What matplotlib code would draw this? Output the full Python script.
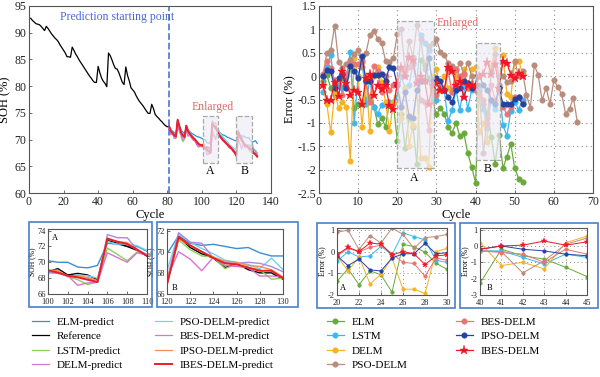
import matplotlib
matplotlib.use("Agg")
import matplotlib.pyplot as plt
from matplotlib.patches import Rectangle

plt.rcParams['font.family'] = ['Liberation Serif', 'DejaVu Serif']
plt.rcParams['axes.unicode_minus'] = False

# ---------------- data ----------------
cycles_ref = list(range(1, 133))
reference = [92.7, 92.3, 92.0, 91.7, 91.6, 91.5, 91.2, 90.8, 90.4, 91.2,
             90.8, 90.3, 89.8, 89.4, 89.0, 88.7, 88.3, 87.7, 87.2, 86.7,
             86.2, 85.5, 85.5, 85.4, 87.3, 86.7, 86.0, 85.5, 84.9, 84.4,
             83.9, 83.4, 82.9, 82.4, 81.9, 81.5, 81.0, 80.7, 80.7, 83.7,
             82.5, 81.5, 80.9, 80.5, 79.9, 86.2, 85.7, 84.9, 84.0, 83.3,
             83.2, 82.5, 81.6, 80.7, 80.3, 83.6, 82.0, 81.0, 79.7, 79.3,
             78.9, 78.2, 77.6, 77.1, 76.7, 76.3, 75.8, 75.3, 74.9, 74.9,
             76.6, 75.8, 74.7, 74.3, 74.0, 73.6, 73.3, 72.9, 72.6, 72.4,
             # 81 - 132
             72.4, 71.5, 71.2, 70.7, 70.5, 73.6, 72.4, 71.2, 70.7, 70.4,
             72.6, 71.5, 71.0, 70.6, 70.2, 69.9, 69.5, 69.1, 68.9,
             68.8, 69.2, 68.4, 68.6, 68.4, 67.8, 72.8, 72.4, 72.0, 71.5, 70.8,
             70.4, 70.0, 69.7, 69.3, 69.0, 68.7, 68.4, 68.0, 67.6,
             67.0, 71.4, 70.4, 69.8, 69.4, 68.5, 68.9, 68.3, 68.0, 68.0, 67.4,
             67.3, 67.0]

cycles_pred = list(range(81, 133))
elm_pred = [72.5, 72.0, 71.6, 71.3, 71.0, 73.2, 72.6, 71.8, 71.4, 71.1,
            72.2, 71.8, 71.5, 71.2, 71.0, 70.8, 70.6, 70.5, 70.4,
            70.2, 70.0, 70.0, 69.4, 69.3, 69.6, 72.4, 72.3, 72.0, 72.0, 71.4,
            71.1, 70.9, 70.8, 70.6, 70.4, 70.3, 70.1, 70.0, 69.8,
            69.8, 71.5, 70.8, 70.6, 70.7, 70.5, 70.3, 70.4, 69.9, 69.6, 69.6,
            69.8, 69.3]
lstm_pred = [72.3, 71.2, 70.9, 70.8, 70.2, 73.3, 71.9, 70.5, 69.6, 70.1,
             72.0, 71.2, 70.9, 70.4, 70.1, 69.7, 69.3, 69.0, 68.9,
             68.8, 68.9, 68.2, 67.8, 67.2, 67.5, 71.8, 71.0, 70.2, 71.3, 70.9,
             70.5, 70.1, 69.6, 69.2, 69.0, 68.6, 68.2, 67.9, 67.5,
             67.0, 71.1, 70.2, 69.6, 69.5, 68.4, 68.8, 68.5, 68.3, 67.4, 67.5,
             67.4, 67.1]
delm_pred = [72.1, 70.9, 71.3, 70.2, 70.6, 72.8, 71.5, 70.8, 70.0, 70.2,
             71.8, 70.6, 70.9, 70.3, 69.9, 69.8, 69.0, 68.6, 68.7,
             68.7, 68.6, 68.3, 67.1, 67.4, 67.5, 71.2, 70.6, 70.0, 71.2, 70.9,
             70.3, 69.8, 69.5, 69.4, 68.8, 68.4, 68.3, 67.8, 67.4,
             67.5, 70.0, 69.3, 68.2, 69.5, 68.7, 68.6, 68.5, 67.7, 67.7, 67.6,
             67.5, 67.2]
pso_pred = [72.6, 72.0, 71.5, 71.0, 70.8, 73.4, 72.6, 71.6, 71.1, 70.7,
            72.3, 71.8, 71.3, 70.9, 70.5, 70.2, 69.8, 69.4, 69.1,
            68.9, 68.8, 68.2, 68.4, 68.3, 68.0, 72.6, 72.3, 72.3, 72.1, 71.5,
            71.0, 70.6, 70.2, 69.8, 69.5, 69.1, 68.8, 68.5, 68.2,
            68.2, 71.7, 70.9, 70.3, 69.8, 69.2, 69.0, 68.8, 68.4, 69.4, 68.3,
            68.0, 67.6]
bes_pred = [72.3, 71.4, 71.0, 70.6, 70.3, 73.8, 72.3, 71.0, 70.5, 70.2,
            72.5, 71.3, 70.8, 70.4, 70.0, 69.7, 69.3, 69.0, 68.8,
            68.7, 68.7, 68.3, 68.3, 68.0, 67.5, 73.5, 73.1, 73.1, 71.6, 71.0,
            70.6, 70.2, 69.8, 69.4, 69.0, 68.7, 68.4, 68.1, 67.7,
            67.3, 71.8, 70.9, 70.8, 69.4, 69.0, 68.9, 69.0, 68.9, 68.6, 68.1,
            67.8, 67.4]
ipso_pred = [72.4, 71.6, 71.2, 70.8, 70.5, 73.5, 72.4, 71.2, 70.8, 70.4,
             72.5, 71.5, 71.1, 70.6, 70.3, 69.9, 69.6, 69.2, 69.0,
             69.0, 69.0, 68.2, 68.2, 68.1, 67.7, 72.9, 72.6, 72.5, 71.5, 70.8,
             70.5, 70.1, 69.7, 69.4, 69.0, 68.7, 68.4, 68.0, 67.6,
             67.2, 71.2, 70.6, 70.0, 69.5, 69.1, 69.0, 68.7, 68.6, 68.3, 67.6,
             67.4, 67.1]
ibes_pred = [72.5, 71.6, 71.3, 70.8, 70.6, 73.7, 72.5, 71.3, 70.8, 70.5,
             72.6, 71.6, 71.1, 70.7, 70.3, 70.0, 69.6, 69.2, 69.0,
             69.0, 68.7, 68.3, 68.1, 67.8, 67.5, 73.0, 72.6, 72.3, 71.6, 70.8,
             70.4, 70.0, 69.7, 69.3, 69.0, 68.7, 68.4, 68.0, 67.6,
             66.9, 71.4, 70.6, 70.0, 69.4, 68.9, 68.8, 68.5, 68.2, 68.2, 67.5,
             67.2, 66.8]

err_x = list(range(1, 53))
err_x_pso = list(range(1, 67))
err_elm = [-0.1, 0.02, -0.25, -0.4, -0.2, -0.05, -0.25, 0.3, -0.68, -0.6,
           -0.6, -0.52, -0.45, -0.65, -1.02, -0.9, -1.08, -0.55, -0.6, -1.38,
           -0.8, -1.54, -0.89, -1.08, -1.89, 0.34, 0.23, -0.03, -0.54, -0.82,
           -0.68, -0.8, -1.09, -1.22, -1.0, -1.29, -1.22, -1.65, -1.94, -2.28,
           -0.2, -0.6, -0.8, -1.3, -1.87, -1.25, -1.97, -1.72, -1.45, -1.97,
           -2.19, -2.26]
err_lstm = [-0.35, 0.2, 0.45, -0.25, -0.2, -0.25, 0.0, 0.52, -1.0, 0.0,
            0.35, -0.6, -0.05, -0.65, -0.8, -0.62, -0.6, -0.55, -0.55, -0.45,
            0.0, -0.25, -0.2, 0.25, -0.15, 0.88, 0.7, 0.55, -0.4, -0.5,
            -0.28, -0.3, -0.97, -0.72, -0.3, -0.72, -0.2, -0.7, -0.3, -0.3,
            -0.3, -0.7, -1.1, -0.5, -0.7, -0.2, -1.05, -1.28, -0.75, -0.55,
            -0.72, -0.5]
err_delm = [-0.2, -0.6, -1.2, -0.35, -0.68, -0.55, -0.65, -1.82, 0.38, 0.0,
            -1.08, -0.05, -1.18, 0.0, 0.2, -0.12, -0.55, -1.18, -0.55, -0.2,
            -0.9, -0.25, -1.5, -1.05, -0.3, -1.75, -1.75, -1.95, 0.0, 0.15,
            -0.3, 0.0, -0.25, -0.35, 0.0, -0.05, 0.15, -0.25, 0.15, 0.2,
            -1.2, -1.0, -1.4, 0.2, 0.6, -0.25, 0.45, -0.38, -0.45, 0.3,
            0.33, 0.05]
err_pso = [0.0, 0.5, 0.56, 1.07, 0.3, 0.18, 0.27, 0.35, 0.48, 0.55,
           0.2, 0.5, 0.88, 0.97, 0.8, 0.7, 0.33, 0.3, 0.38, 0.9,
           1.0, 0.1, 0.75, 0.4, 1.1, 0.8, 0.15, 0.65, 0.7, 0.8,
           0.52, 0.45, 0.28, 0.22, 0.13, 0.28, 0.05, 0.28, 0.0, -0.3,
           -0.35, -1.65, -0.9, 0.1, 0.48, 0.0, 0.0, -0.12, -0.1, 0.33,
           0.0, 0.1, -0.4, -0.68, 0.24, 0.02, -0.52, -0.25, -0.59, -0.09,
           -0.23, -0.39, -0.8, -0.7, -0.46, -0.99]
err_bes = [0.05, 0.32, 0.18, -0.15, -0.05, -0.4, 0.05, 0.25, 0.25, 0.25,
           0.3, -0.1, -0.55, 0.22, 0.1, -0.35, 0.0, -0.3, -0.2, -0.2,
           0.15, 0.0, 0.2, 0.3, -0.1, -0.5, -0.55, -1.15, -0.3, -0.4,
           -0.25, -0.3, 0.1, -0.35, 0.15, 0.0, 0.05, -0.25, -0.25, -0.3,
           -0.4, -0.5, -1.0, -0.2, -0.5, -0.35, -0.65, -0.82, -0.65, -0.45,
           -0.45, -0.58]
err_ipso = [0.0, 0.13, 0.1, -0.25, -0.03, 0.05, -0.25, 0.22, 0.12, -0.05,
            0.42, -0.1, -0.1, 0.03, 0.03, 0.05, -0.1, 0.2, 0.18, -0.2,
            -0.65, -0.35, -0.85, -0.9, -0.3, -0.1, -0.1, 0.38, -0.1, -0.05,
            -0.1, -0.3, -0.45, -0.55, -0.3, -0.25, -0.1, -0.15, -0.25, -0.2,
            0.0, -0.2, -0.3, -0.5, -0.6, -0.25, -0.6, -0.6, -0.6, -0.48,
            -0.45, -0.6]
err_ibes = [-0.2, -0.5, -0.5, -0.12, -0.43, 0.1, -0.15, -0.4, -0.3, -0.35,
            -0.6, -0.05, 0.05, -0.4, -0.2, -0.27, -0.2, -0.62, -0.7, -0.15,
            0.2, 0.0, 0.4, 0.35, -0.15, 0.0, -0.1, -0.6, -0.2, -0.15,
            -0.3, -0.3, 0.2, 0.12, -0.2, -0.1, -0.45, -0.2, -0.2, -0.2,
            0.0, 0.05, 0.3, 0.05, 0.25, -0.25, 0.32, 0.28, 0.03, -0.05,
            0.07, 0.0]

pred_series = [
    ("ELM-predict", elm_pred, '#3a8ed6'),
    ("LSTM-predict", lstm_pred, '#8cd05a'),
    ("DELM-predict", delm_pred, '#d873d0'),
    ("PSO-DELM-predict", pso_pred, '#72d2f0'),
    ("BES-DELM-predict", bes_pred, '#b286d6'),
    ("IPSO-DELM-predict", ipso_pred, '#f59050'),
    ("IBES-DELM-predict", ibes_pred, '#ea1e28'),
]
err_series = [
    ("ELM", err_x, err_elm, '#6aaa3c', 'o'),
    ("LSTM", err_x, err_lstm, '#3cb8f0', 'o'),
    ("DELM", err_x, err_delm, '#f5b222', 'o'),
    ("PSO-DELM", err_x_pso, err_pso, '#b98c7c', 'o'),
    ("BES-DELM", err_x, err_bes, '#e87474', 'o'),
    ("IPSO-DELM", err_x, err_ipso, '#2442a2', 'o'),
    ("IBES-DELM", err_x, err_ibes, '#f21424', '*'),
]

frame_col = '#555555'
W, H = 600, 377


def fx(px):
    return px / W


def fy(py):
    return 1 - py / H


def style_axes(ax, fs):
    for s in ax.spines.values():
        s.set_color(frame_col)
        s.set_linewidth(0.8)
    ax.tick_params(direction='in', length=2.5, width=0.6, colors=frame_col,
                   labelcolor='#222222', labelsize=fs, pad=2)


def shade_box(ax, x0, x1, y0, y1):
    ax.add_patch(Rectangle((x0, y0), x1 - x0, y1 - y0, facecolor='#ededf6',
                           edgecolor='none', alpha=0.7, zorder=20))
    ax.add_patch(Rectangle((x0, y0), x1 - x0, y1 - y0, fill=False,
                           edgecolor='#a8a8a8', linestyle='--', lw=0.9, zorder=21))


fig = plt.figure(figsize=(6, 3.77), dpi=100)

# ---------------- left main ----------------
ax1 = fig.add_axes([fx(29), fy(193), fx(242), 187 / H])
ref_line, = ax1.plot(cycles_ref, reference, color='black', lw=0.9, label='Reference')
pred_lines = []
for name, vals, col in pred_series:
    lw = 1.4 if name.startswith('IBES') else 0.9
    ln, = ax1.plot(cycles_pred, vals, color=col, lw=lw, label=name)
    pred_lines.append(ln)
ax1.axvline(81, color='#5b7fd9', ls='--', lw=1.3)
ax1.text(18, 92.3, 'Prediction starting point', color='#4a68d0', fontsize=8.5)
ax1.text(106, 75.6, 'Enlarged', color='#e06a6a', fontsize=8.5, ha='center')
shade_box(ax1, 100.5, 109.3, 65.6, 74.4)
shade_box(ax1, 119.7, 129.0, 65.6, 74.4)
ax1.text(104.8, 63.5, 'A', fontsize=8.5, ha='center')
ax1.text(124.6, 63.5, 'B', fontsize=8.5, ha='center')
ax1.set_xlim(0, 140)
ax1.set_ylim(60, 95)
ax1.set_xticks(range(0, 141, 20))
ax1.set_yticks(range(60, 96, 5))
ax1.set_xlabel('Cycle', fontsize=9, labelpad=1)
ax1.set_ylabel('SOH (%)', fontsize=9, labelpad=2)
style_axes(ax1, 8.5)

# ---------------- right main ----------------
ax2 = fig.add_axes([fx(319), fy(193), fx(274), 187 / H])
err_lines = []
for name, xs, vals, col, mk in err_series:
    ms = 6.5 if mk == '*' else 4
    ln, = ax2.plot(xs, vals, color=col, lw=0.9, marker=mk, ms=ms,
                   markeredgewidth=0.3, label=name)
    err_lines.append(ln)
shade_box(ax2, 19.8, 29.4, -1.97, 1.18)
shade_box(ax2, 40.0, 46.2, -1.8, 0.7)
ax2.text(35.5, 1.08, 'Enlarged', color='#e06a6a', fontsize=8.5, ha='center')
ax2.text(24.2, -2.25, 'A', fontsize=8.5, ha='center')
ax2.text(43.0, -2.05, 'B', fontsize=8.5, ha='center')
ax2.set_xlim(0, 70)
ax2.set_ylim(-2.5, 1.5)
ax2.set_xticks(range(0, 71, 10))
ax2.set_yticks([-2.5, -2, -1.5, -1, -0.5, 0, 0.5, 1, 1.5])
ax2.set_yticklabels(['-2.5', '-2', '-1.5', '-1', '-0.5', '0', '0.5', '1', '1.5'])
ax2.grid(True, ls=(0, (1, 3)), color='#8a8a8a', lw=0.8)
ax2.set_xlabel('Cycle', fontsize=9, labelpad=1)
ax2.set_ylabel('Error (%)', fontsize=9, labelpad=1)
style_axes(ax2, 8.5)

# ---------------- insets ----------------
for (x0, x1, y0, y1) in [(29, 152, 222, 307), (157, 298, 222, 307),
                         (317, 455, 223, 308), (460, 598, 223, 308)]:
    fig.patches.append(Rectangle((fx(x0), fy(y1)), fx(x1 - x0), (y1 - y0) / H,
                                 transform=fig.transFigure, fill=False,
                                 edgecolor='#4a80c8', lw=1.2))


def soh_inset(rect, lo, hi, ylim, yt, label, lab_xy):
    ax = fig.add_axes(rect)
    i0 = lo - 81
    i1 = hi - 81 + 1
    for name, vals, col in pred_series[:1]:
        ax.plot(cycles_pred[i0:i1], vals[i0:i1], color=col, lw=1.0)
    ax.plot(cycles_ref[lo - 1:hi], reference[lo - 1:hi], color='black', lw=1.0)
    for name, vals, col in pred_series[1:]:
        lw = 1.4 if name.startswith('IBES') else 1.0
        ax.plot(cycles_pred[i0:i1], vals[i0:i1], color=col, lw=lw)
    ax.set_xlim(lo, hi)
    ax.set_ylim(*ylim)
    ax.set_xticks(range(lo, hi + 1, 2))
    ax.set_yticks(yt)
    ax.set_ylabel('SOH (%)', fontsize=5.5, labelpad=1)
    ax.text(lab_xy[0], lab_xy[1], label, fontsize=6)
    style_axes(ax, 6)
    ax.tick_params(axis='x', pad=3)
    ax.tick_params(axis='y', pad=1.5)
    return ax


soh_inset([fx(48), fy(294), fx(99), 65 / H], 100, 110, (66, 74.2),
          [66, 68, 70, 72, 74], 'A', (100.4, 72.8))
soh_inset([fx(167), fy(294), fx(116), 65 / H], 120, 130, (66, 72.15),
          [66, 68, 70, 72], 'B', (120.4, 66.4))


def err_inset(rect, lo, hi, ylim, yt, xstep, label, lab_xy):
    ax = fig.add_axes(rect)
    for name, xs, vals, col, mk in err_series:
        ms = 4 if mk == '*' else 2.6
        ax.plot(xs[lo - 1:hi], vals[lo - 1:hi], color=col, lw=0.7,
                marker=mk, ms=ms, markeredgewidth=0.3)
    ax.set_xlim(lo, hi)
    ax.set_ylim(*ylim)
    ax.set_xticks(range(lo, hi + 1, xstep))
    ax.set_yticks(yt)
    ax.grid(True, ls=(0, (1, 3)), color='#8a8a8a', lw=0.7)
    ax.set_ylabel('Error (%)', fontsize=5.5, labelpad=1)
    ax.text(lab_xy[0], lab_xy[1], label, fontsize=6)
    style_axes(ax, 6)
    ax.tick_params(axis='x', pad=3)
    ax.tick_params(axis='y', pad=1.5)
    return ax


err_inset([fx(337), fy(295), fx(110), 67 / H], 20, 30, (-2.02, 1.1),
          [-2, -1, 0, 1], 2, 'A', (20.3, -1.8))
err_inset([fx(480), fy(295), fx(107), 67 / H], 40, 45, (-3, 1.1),
          [-3, -2, -1, 0, 1], 1, 'B', (40.3, -2.7))

# ---------------- legends ----------------
left_handles = [pred_lines[0], ref_line, pred_lines[1], pred_lines[2]]
left_handles2 = pred_lines[3:]
right_handles = err_lines[:4]
right_handles2 = err_lines[4:]
leg_kw = dict(frameon=False, fontsize=8, handlelength=1.5, handletextpad=0.7,
              labelspacing=0.42, borderpad=0, borderaxespad=0, loc='upper left')
for hs, x in [(left_handles, 32), (left_handles2, 155)]:
    fig.legend(hs, [h.get_label() for h in hs],
               bbox_to_anchor=(fx(x), fy(317)), **leg_kw)
for hs, x in [(right_handles, 327), (right_handles2, 456)]:
    fig.legend(hs, [h.get_label() for h in hs], numpoints=1,
               bbox_to_anchor=(fx(x), fy(317)), **leg_kw)

fig.savefig('out.png', dpi=100)
